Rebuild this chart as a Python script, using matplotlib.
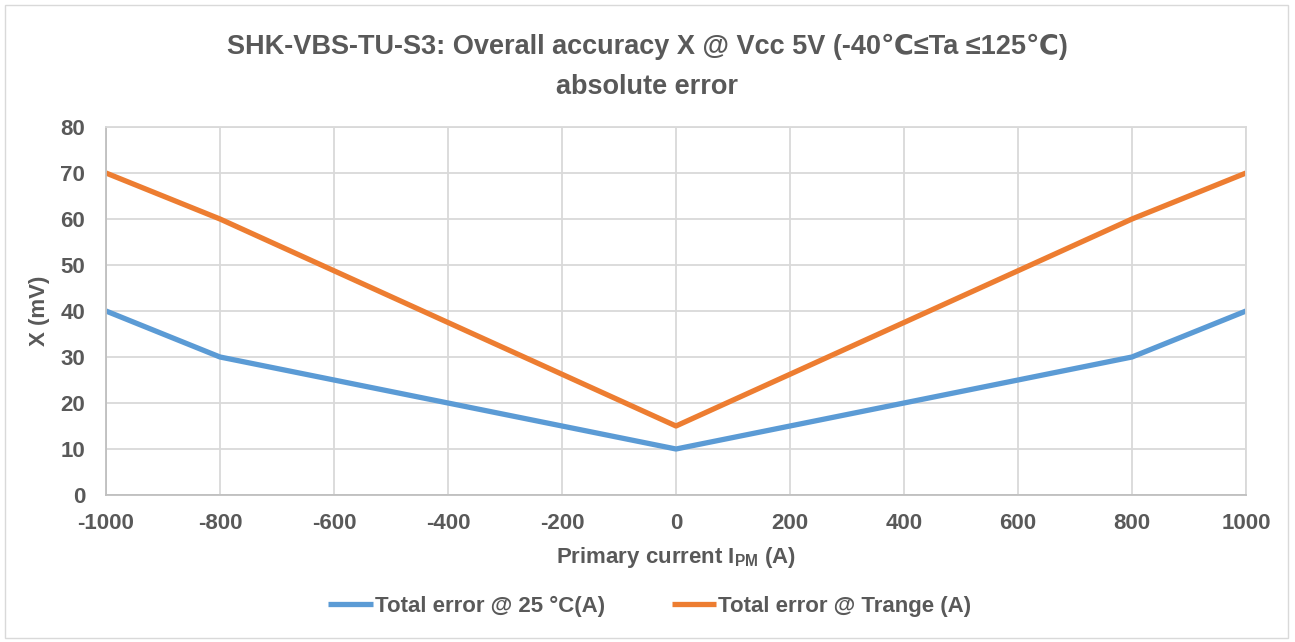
import matplotlib.pyplot as plt
from matplotlib.patches import Rectangle

# Data
current = [-1000, -800, 0, 800, 1000]
err_25c = [40, 30, 10, 30, 40]
err_trange = [70, 60, 15, 60, 70]

x_ticks = [-1000, -800, -600, -400, -200, 0, 200, 400, 600, 800, 1000]
y_ticks = [0, 10, 20, 30, 40, 50, 60, 70, 80]

plt.rcParams['font.family'] = ['Liberation Sans', 'DejaVu Sans']
plt.rcParams['font.weight'] = 'bold'
plt.rcParams['axes.unicode_minus'] = False
text_col = '#595959'
grid_col = '#d9d9d9'

fig = plt.figure(figsize=(12.95, 6.42), dpi=100)
ax = fig.add_axes([106 / 1295, 147 / 642, 1140 / 1295, 368 / 642])

ax.plot(current, err_25c, color='#5b9bd5', lw=3.8, label='Total error @ 25 °C(A)', solid_capstyle='butt')
ax.plot(current, err_trange, color='#ed7d31', lw=3.8, label='Total error @ Trange (A)', solid_capstyle='butt')

ax.set_xlim(-1000, 1000)
ax.set_ylim(0, 80)
ax.set_xticks(x_ticks)
ax.set_yticks(y_ticks)
ax.tick_params(length=0, labelsize=16, labelcolor=text_col)
ax.tick_params(axis='x', pad=13)
ax.tick_params(axis='y', pad=15)
for lab in ax.get_xticklabels() + ax.get_yticklabels():
    lab.set_fontweight('bold')
ax.grid(True, color=grid_col, lw=1.3)
ax.set_axisbelow(True)
for s in ax.spines.values():
    s.set_color(grid_col)
    s.set_linewidth(1.3)
ax.spines['left'].set_color('#bfbfbf')
ax.spines['bottom'].set_color('#bfbfbf')

fig.text(676 / 1295, 1 - 558 / 642, r'Primary current $\mathregular{I_{PM}}$ (A)', fontsize=16,
         color=text_col, fontweight='bold', ha='center', va='center')
fig.text(40 / 1295, 1 - 311 / 642, 'X (mV)', fontsize=16, color=text_col, fontweight='bold',
         rotation=90, ha='center', va='center')

fig.text(0.5, 1 - 47 / 642, 'SHK-VBS-TU-S3: Overall accuracy X @ Vcc 5V (-40℃≤Ta ≤125℃)',
         fontsize=19.5, color=text_col, fontweight='bold', ha='center', va='center')
fig.text(0.5, 1 - 87 / 642, 'absolute error',
         fontsize=19.5, color=text_col, fontweight='bold', ha='center', va='center')

fig.legend(loc='center', bbox_to_anchor=(650 / 1295, 1 - 606 / 642), ncol=2, frameon=False,
           labelcolor=text_col, handlelength=2.0, handletextpad=0.1,
           columnspacing=3.0, prop={'weight': 'bold', 'size': 16})

fig.patches.append(Rectangle((5 / 1295, 4 / 642), 1283 / 1295, 633 / 642,
                             transform=fig.transFigure, fill=False, ec=grid_col, lw=1))

fig.savefig('out.png', dpi=100)
